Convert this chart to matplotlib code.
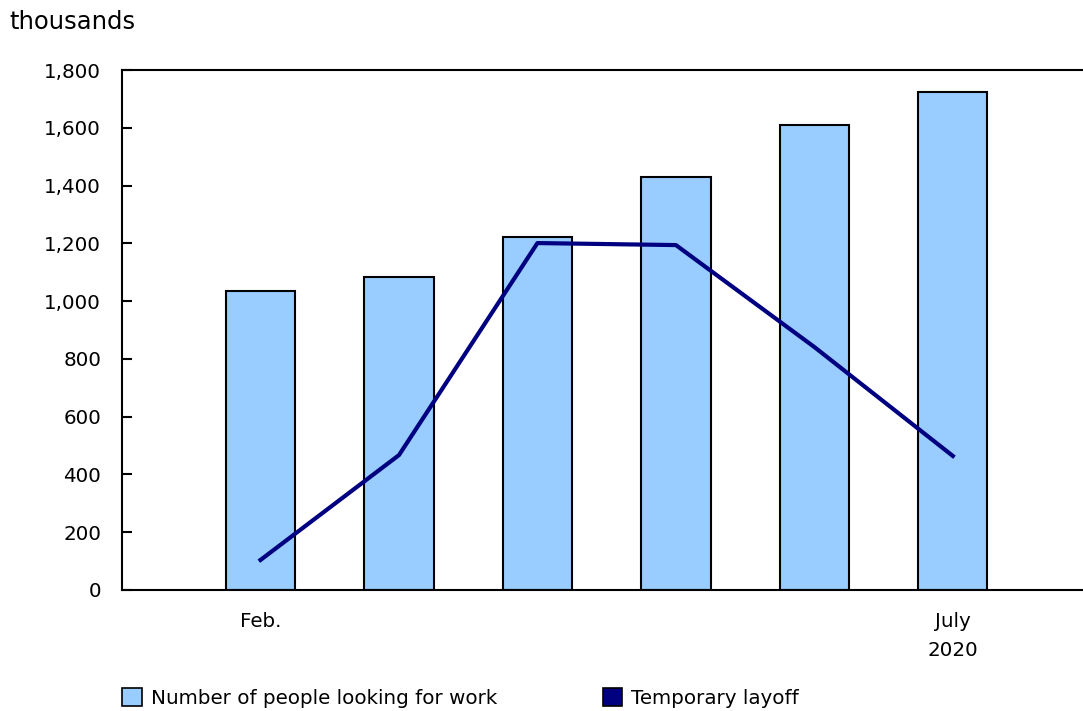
import matplotlib
matplotlib.use("Agg")
import matplotlib.pyplot as plt
from matplotlib.patches import Patch
from matplotlib.ticker import FuncFormatter

plt.rcParams['font.family'] = ['DejaVu Sans']

months = ["Feb.", "Mar.", "Apr.", "May", "June", "July"]
tick_labels = ["Feb.", "", "", "", "", "July\n2020"]
looking_for_work = [1035, 1083, 1222, 1430, 1610, 1724]
temporary_layoff = [104, 467, 1201, 1194, 841, 464]

bar_color = "#99CCFF"
line_color = "#000080"
fs = 14.3

fig = plt.figure(figsize=(10.83, 7.11), dpi=100)
ax = fig.add_axes([0.1127, 0.1702, 0.8873, 0.7313])

x = list(range(len(months)))
ax.bar(x, looking_for_work, width=0.5, color=bar_color, edgecolor="black",
       linewidth=1.5, zorder=2)
ax.plot(x, temporary_layoff, color=line_color, linewidth=3, zorder=3)

ax.set_xlim(-1.0, 5.94)
ax.set_ylim(0, 1800)
ax.set_yticks(range(0, 1801, 200))
ax.yaxis.set_major_formatter(FuncFormatter(lambda v, p: f"{int(v):,}"))
ax.set_xticks(x)
ax.set_xticklabels(tick_labels, linespacing=1.65)
ax.tick_params(axis="x", length=0, pad=16, labelsize=fs)
ax.tick_params(axis="y", direction="in", length=7, width=1.5, pad=15, labelsize=fs)

for side in ("left", "bottom", "top"):
    ax.spines[side].set_linewidth(1.5)
ax.spines["right"].set_visible(False)

fig.text(0.009, 0.969, "thousands", fontsize=17.5, ha="left", va="center")

handles = [
    Patch(facecolor=bar_color, edgecolor="black", linewidth=1.2,
          label="Number of people looking for work"),
    Patch(facecolor=line_color, edgecolor="black", linewidth=1.2,
          label="Temporary layoff"),
]
fig.legend(handles=handles, loc="center left", bbox_to_anchor=(0.1055, 0.0185),
           ncol=2, frameon=False, fontsize=fs, handlelength=1.0, handleheight=1.0,
           handletextpad=0.45, columnspacing=5.3, borderaxespad=0)

fig.savefig("out.png", dpi=100)
